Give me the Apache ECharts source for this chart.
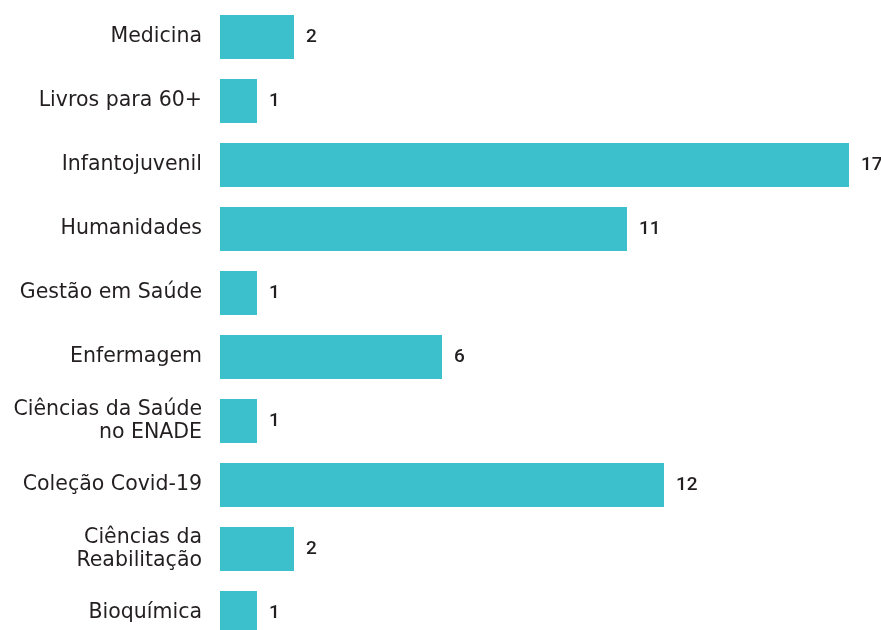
<!DOCTYPE html>
<html>
<head>
<meta charset="utf-8">
<script src="https://cdn.jsdelivr.net/npm/echarts@6/dist/echarts.min.js"></script>
<style>
  html, body { margin: 0; padding: 0; background: #fff; overflow: hidden; }
  #chart { width: 881px; height: 650px; }
</style>
</head>
<body>
<div id="chart"></div>
<script>
// categories top to bottom
var categories = ['Medicina', 'Livros para 60+', 'Infantojuvenil', 'Humanidades', 'Gestão em Saúde',
  'Enfermagem', 'Ciências da Saúde\nno ENADE', 'Coleção Covid-19', 'Ciências da\nReabilitação', 'Bioquímica'];
var values = [2, 1, 17, 11, 1, 6, 1, 12, 2, 1];

var chartDom = document.getElementById('chart');
var myChart = echarts.init(chartDom);
var option;

option = {
  animation: false,
  grid: {
    left: 220,
    top: 5,
    width: 629,
    height: 640
  },
  xAxis: {
    type: 'value',
    min: 0,
    max: 17,
    show: false
  },
  yAxis: {
    type: 'category',
    inverse: true,
    data: categories,
    axisLine: { show: false },
    axisTick: { show: false },
    axisLabel: {
      margin: 18,
      color: '#231f20',
      fontFamily: 'DejaVu Sans',
      fontSize: 20.5,
      lineHeight: 23,
      align: 'right'
    }
  },
  series: [
    {
      type: 'bar',
      data: values,
      barWidth: 44,
      itemStyle: { color: '#3cc0cb' },
      label: {
        show: true,
        position: 'right',
        distance: 12,
        color: '#231f20',
        fontFamily: 'Roboto',
        fontWeight: 500,
        fontSize: 19
      }
    }
  ]
};

option && myChart.setOption(option);
</script>
</body>
</html>
